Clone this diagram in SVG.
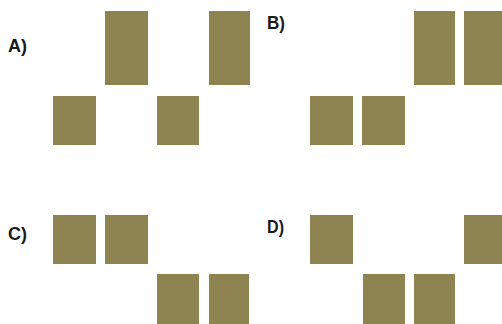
<svg xmlns="http://www.w3.org/2000/svg" width="502" height="324" viewBox="0 0 502 324">
<style>
.b{fill:#8d8452}
.l{font-family:"Liberation Sans Narrow","Liberation Sans",Arial,sans-serif;font-weight:bold;font-size:19px;fill:#1a1a1a}
</style>
<rect width="502" height="324" fill="#fff"/>
<g id="A">
<text class="l" x="8" y="52" textLength="19" lengthAdjust="spacingAndGlyphs">A)</text>
<rect class="b" x="105" y="11" width="43" height="74"/>
<rect class="b" x="209" y="11" width="41" height="74"/>
<rect class="b" x="53" y="96" width="43" height="49"/>
<rect class="b" x="157" y="96" width="42" height="49"/>
</g>
<g id="B">
<text class="l" x="267" y="29" textLength="18" lengthAdjust="spacingAndGlyphs">B)</text>
<rect class="b" x="414" y="11" width="41" height="74"/>
<rect class="b" x="464" y="11" width="38" height="74"/>
<rect class="b" x="310" y="96" width="43" height="49"/>
<rect class="b" x="362" y="96" width="43" height="49"/>
</g>
<g id="C">
<text class="l" x="8" y="240" textLength="19" lengthAdjust="spacingAndGlyphs">C)</text>
<rect class="b" x="53" y="215" width="43" height="49"/>
<rect class="b" x="105" y="215" width="43" height="49"/>
<rect class="b" x="157" y="274" width="42" height="50"/>
<rect class="b" x="209" y="274" width="40" height="50"/>
</g>
<g id="D">
<text class="l" x="267" y="233" textLength="17" lengthAdjust="spacingAndGlyphs">D)</text>
<rect class="b" x="310" y="215" width="43" height="49"/>
<rect class="b" x="464" y="215" width="38" height="49"/>
<rect class="b" x="363" y="274" width="42" height="50"/>
<rect class="b" x="414" y="274" width="41" height="50"/>
</g>
<g id="connectors"/>
</svg>
